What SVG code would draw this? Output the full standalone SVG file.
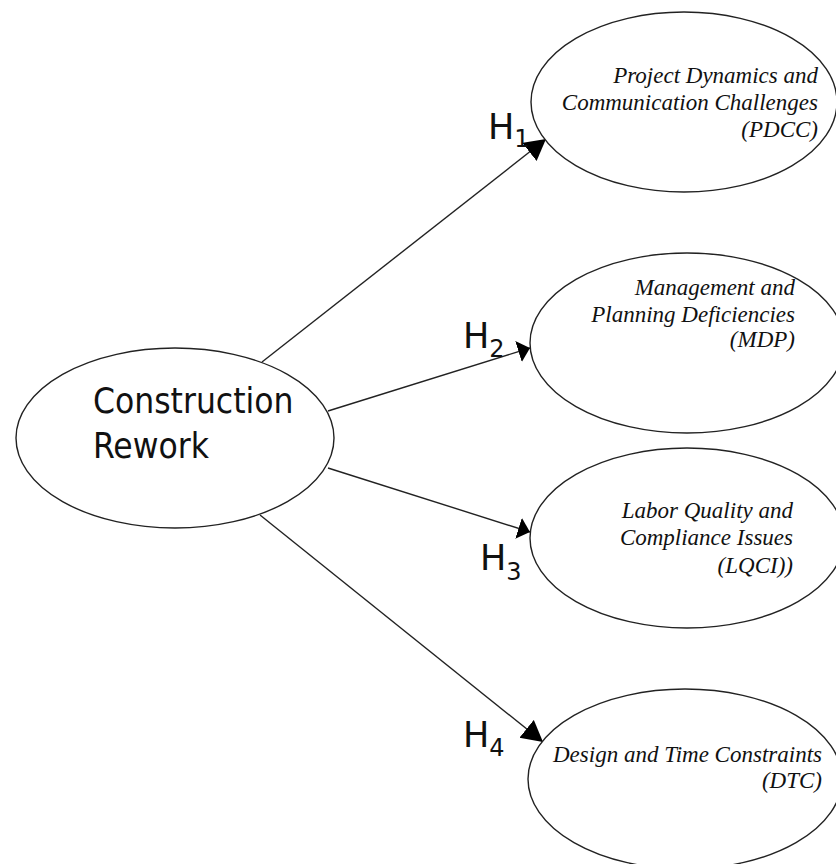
<svg xmlns="http://www.w3.org/2000/svg" width="836" height="864" viewBox="0 0 836 864">
<style>
  .node { fill: #ffffff; stroke: #222; stroke-width: 1.4; }
  .edge { stroke: #222; stroke-width: 1.4; fill: none; }
  .main { font-family: "DejaVu Sans Condensed", "DejaVu Sans", sans-serif; font-stretch: condensed; font-size: 35px; fill: #111; }
  .lbl { font-family: "Liberation Serif", "Times New Roman", serif; font-style: italic; font-size: 23px; fill: #111; text-anchor: end; }
  .h { font-family: "DejaVu Sans", sans-serif; font-size: 35px; fill: #111; }
  .sub { font-size: 24px; }
</style>
<defs>
  <marker id="arrowLong" markerUnits="userSpaceOnUse" markerWidth="24" markerHeight="24" refX="21" refY="11.5" orient="auto">
    <polygon points="0,0 21,11.5 0,23" fill="#000"/>
  </marker>
  <marker id="arrowShort" markerUnits="userSpaceOnUse" markerWidth="24" markerHeight="24" refX="12" refY="11" orient="auto">
    <polygon points="0,0 12,11 0,22" fill="#000"/>
  </marker>
</defs>
<rect width="836" height="864" fill="#ffffff"/>
<g id="connectors">
  <line class="edge" x1="262" y1="362" x2="546" y2="139" marker-end="url(#arrowLong)"/>
  <line class="edge" x1="328" y1="411" x2="530" y2="348" marker-end="url(#arrowShort)"/>
  <line class="edge" x1="328" y1="468" x2="530" y2="532" marker-end="url(#arrowShort)"/>
  <line class="edge" x1="260" y1="515" x2="543" y2="742" marker-end="url(#arrowLong)"/>
</g>
<g id="labels">
  <text class="h" x="488" y="139">H<tspan class="sub" dy="8">1</tspan></text>
  <text class="h" x="463" y="348">H<tspan class="sub" dy="9">2</tspan></text>
  <text class="h" x="480" y="570">H<tspan class="sub" dy="10">3</tspan></text>
  <text class="h" x="463" y="747">H<tspan class="sub" dy="9">4</tspan></text>
</g>
<g id="construction-rework">
  <ellipse class="node" cx="175" cy="438" rx="159" ry="90"/>
  <text class="main" x="93" y="413">Construction</text>
  <text class="main" x="93" y="458">Rework</text>
</g>
<g id="pdcc">
  <ellipse class="node" cx="684" cy="102" rx="153" ry="90"/>
  <text class="lbl" x="818" y="83">Project Dynamics and</text>
  <text class="lbl" x="818" y="110">Communication Challenges</text>
  <text class="lbl" x="818" y="137">(PDCC)</text>
</g>
<g id="mdp">
  <ellipse class="node" cx="687" cy="343" rx="157" ry="90"/>
  <text class="lbl" x="795" y="295">Management and</text>
  <text class="lbl" x="795" y="322">Planning Deficiencies</text>
  <text class="lbl" x="795" y="347">(MDP)</text>
</g>
<g id="lqci">
  <ellipse class="node" cx="687" cy="538" rx="157" ry="90"/>
  <text class="lbl" x="793" y="518">Labor Quality and</text>
  <text class="lbl" x="793" y="545">Compliance Issues</text>
  <text class="lbl" x="793" y="573">(LQCI))</text>
</g>
<g id="dtc">
  <ellipse class="node" cx="685" cy="779" rx="157" ry="90"/>
  <text class="lbl" x="822" y="762">Design and Time Constraints</text>
  <text class="lbl" x="822" y="788">(DTC)</text>
</g>
</svg>
